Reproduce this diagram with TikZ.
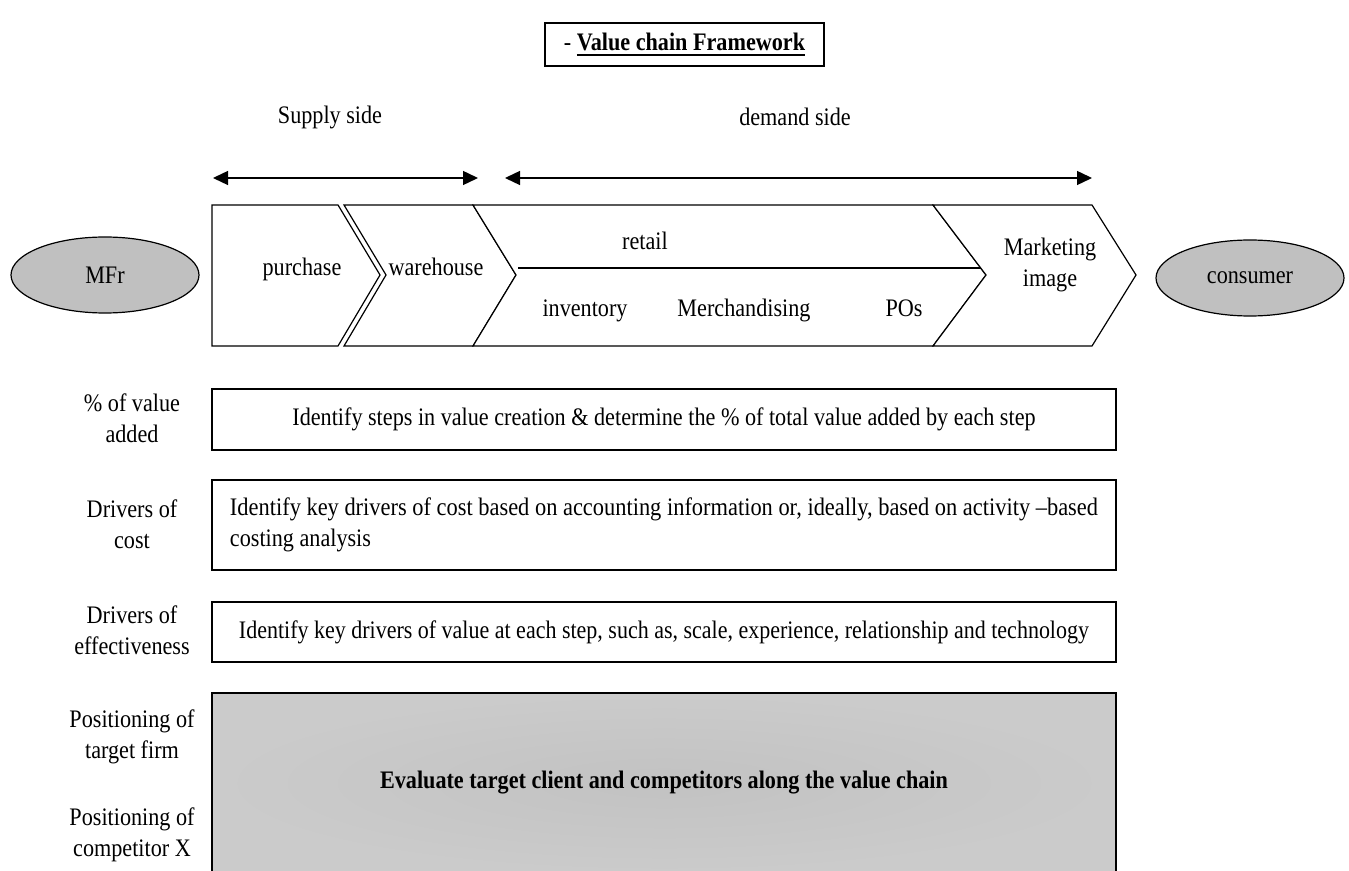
\documentclass[tikz,border=0pt]{standalone}
\usepackage{fontspec}
\setmainfont{Liberation Serif}[FakeStretch=0.88]
\usetikzlibrary{arrows.meta,shapes.geometric}
\definecolor{ovalgray}{RGB}{192,192,192}
\definecolor{boxgrayout}{RGB}{203,203,203}
\definecolor{boxgrayin}{RGB}{194,194,194}
\newcommand{\thickul}[1]{\setbox0\hbox{#1}\rlap{\rule[-2.4pt]{\wd0}{0.9pt}}\box0}
\tikzset{
  txt/.style={font=\fontsize{12.6}{15.5}\selectfont, inner sep=0pt, align=center},
  chev/.style={draw, line width=0.6pt, fill=white, line join=miter},
  rowbox/.style={draw, line width=0.6pt, minimum width=452pt, font=\fontsize{12.6}{15.5}\selectfont},
  oval/.style={draw, ellipse, fill=ovalgray, line width=0.6pt, minimum width=94pt, minimum height=38pt, inner sep=0pt, font=\fontsize{12.6}{15.5}\selectfont},
  span/.style={line width=0.7pt, {Triangle[length=7.5pt,width=7pt]}-{Triangle[length=7.5pt,width=7pt]}}
}
\begin{document}
\begin{tikzpicture}[x=0.5pt,y=-0.5pt]
\useasboundingbox (0,0) rectangle (1349,871);
\clip (0,0) rectangle (1349,871);
% title
\node[draw, line width=0.6pt, minimum width=139.5pt, minimum height=21.5pt, inner sep=0pt, font=\fontsize{12.6}{15.5}\selectfont] (title) at (684.5,44.5) {- \textbf{\thickul{Value chain Framework}}};
% sides
\node[txt] (supply) at (330,117) {Supply side};
\node[txt] (demand) at (795,117) {demand side};
\coordinate (s1) at (213,178);
\coordinate (s2) at (478,178);
\coordinate (d1) at (505,178);
\coordinate (d2) at (1092,178);
\draw[span] (s1) -- (s2);
\draw[span] (d1) -- (d2);
% chevrons
\draw[chev] (212,205) -- (338,205) -- (380,275) -- (338,346) -- (212,346) -- cycle;
\draw[chev] (344,205) -- (473,205) -- (516,275) -- (473,346) -- (344,346) -- (386,275) -- cycle;
\draw[chev] (473,205) -- (933,205) -- (986,275) -- (933,346) -- (473,346) -- (516,275) -- cycle;
\draw[chev] (933,205) -- (1092,205) -- (1136,275) -- (1092,346) -- (933,346) -- (986,275) -- cycle;
\coordinate (rl1) at (518,268);
\coordinate (rl2) at (981,268);
\draw[line width=0.6pt] (rl1) -- (rl2);
\node[txt, anchor=base] (purchase) at (302,276) {purchase};
\node[txt, anchor=base] (warehouse) at (436,276) {warehouse};
\node[txt, anchor=base] (retail) at (645,250) {retail};
\node[txt, anchor=base] (inventory) at (585,317) {inventory};
\node[txt, anchor=base] (merch) at (744,317) {Merchandising};
\node[txt, anchor=base] (pos) at (904,317) {POs};
\node[txt] (mkt) at (1050,265) {Marketing\\image};
% ovals
\node[oval] (mfr) at (105,275) {MFr};
\node[oval] (consumer) at (1250,278) {consumer};
% row labels
\node[txt] (l1) at (132,418) {\% of value\\added};
\node[txt] (l2) at (132,524) {Drivers of\\cost};
\node[txt] (l3) at (132,630) {Drivers of\\effectiveness};
\node[txt] (l4) at (132,737) {Positioning of\\target firm};
\node[txt] (l5) at (132,835) {Positioning of\\competitor X};
% row boxes
\node[rowbox, minimum height=30.5pt] (r1) at (664,419.5) {Identify steps in value creation \& determine the \% of total value added by each step};
\node[rowbox, minimum height=45pt, align=left] (r2) at (664,525)
  {\resizebox{434pt}{\height}{Identify key drivers of cost based on accounting information or, ideally, based on activity –based}\\costing analysis};
\node[rowbox, minimum height=30pt] (r3) at (664,632) {\resizebox{425pt}{\height}{Identify key drivers of value at each step, such as, scale, experience, relationship and technology}};
\node[rowbox, minimum height=90pt, inner color=boxgrayin, outer color=boxgrayout, draw] (r4) at (664,783) {\textbf{Evaluate target client and competitors along the value chain}};
\end{tikzpicture}
\end{document}
